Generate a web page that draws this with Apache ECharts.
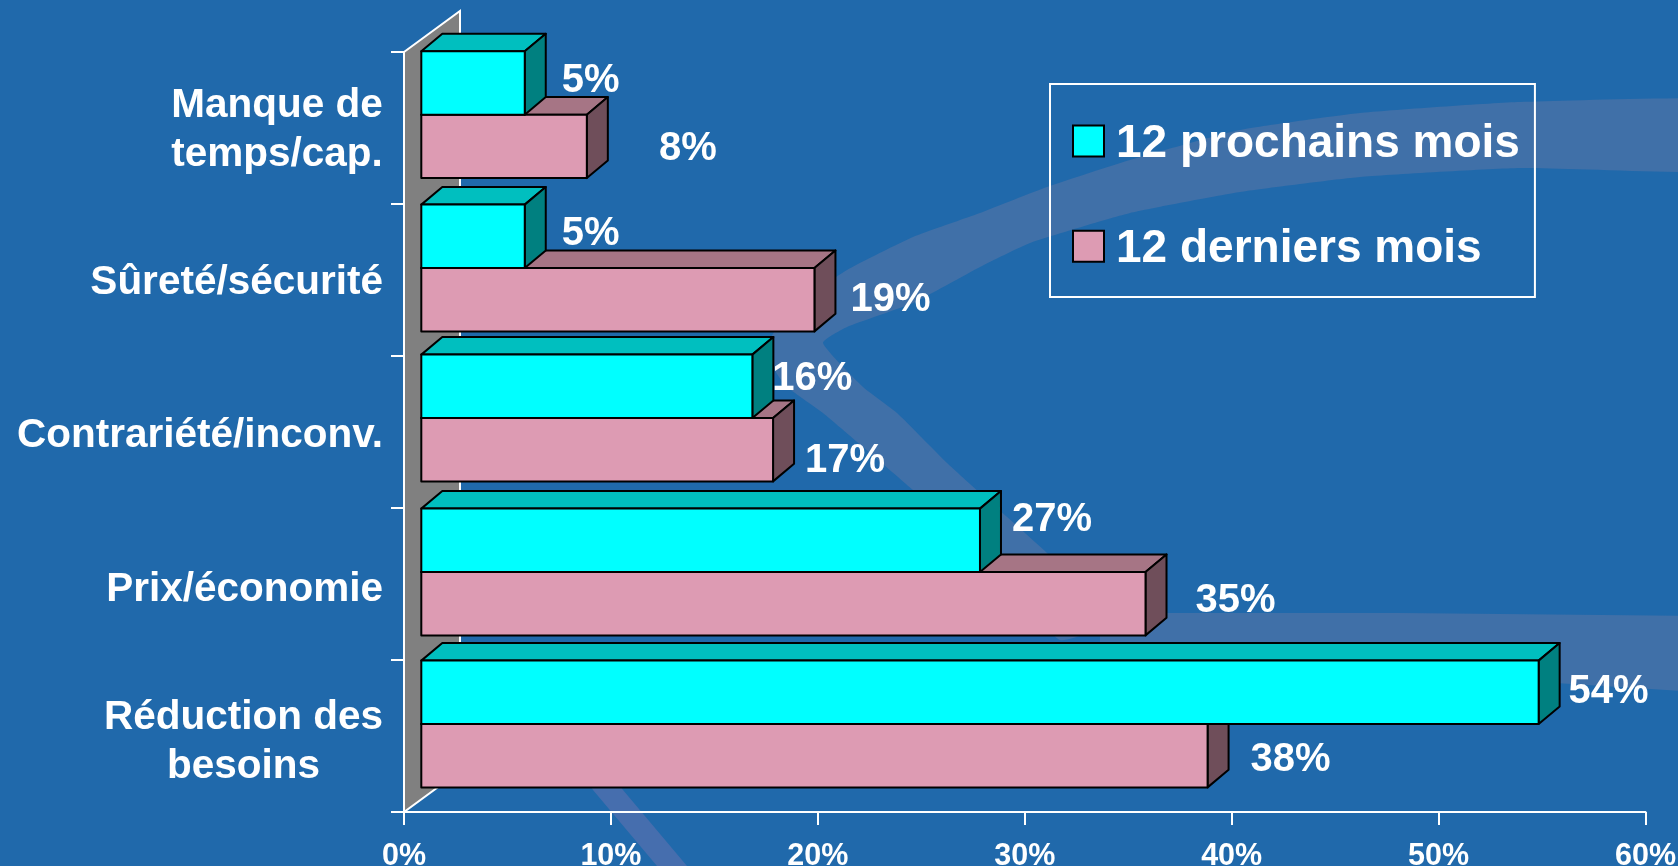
<!DOCTYPE html>
<html>
<head>
<meta charset="utf-8">
<style>html,body{margin:0;padding:0;background:#2069AB}#c{width:1678px;height:866px}</style>
<script src="https://cdn.jsdelivr.net/npm/echarts@6/dist/echarts.min.js"></script>
</head>
<body>
<div id="c"></div>
<script>
// ---- data ----
var categories = ['Réduction des\nbesoins', 'Prix/économie', 'Contrariété/inconv.', 'Sûreté/sécurité', 'Manque de\ntemps/cap.'];
var seriesNext = '12 prochains mois';
var seriesLast = '12 derniers mois';
var valuesNext = [54, 27, 16, 5, 5];
var valuesLast = [38, 35, 17, 19, 8];
var xTicks = { min: 0, max: 60, interval: 10 };

// ---- styling ----
var FONT = '"Liberation Sans", Arial, sans-serif';
var BG = '#2069AB', BAND = '#4070A8', BAND2 = '#466EAE';
var frontDx = 17.3, frontDy = -12.6, depthDx = 21, depthDy = -17.6, barFrac = 0.417;
var wallDx = 56, wallDy = -41;
var paletteNext = { front: '#00FFFF', top: '#00BFBF', side: '#008080' };
var paletteLast = { front: '#DD9BB3', top: '#A67585', side: '#6F4E5A' };
// individual nudges by category (same order as categories)
var rowNudge = [0.6, 0.6, -1.4, 0.6, -0.7];
var nudgeNext = [[70, 0], [72, -20], [60, -7], [66, -2], [66, -2.5]];
var nudgeLast = [[83, 4], [90, -3], [72, 11], [76, 0], [101, 3]];
var catPadding = [[12, 3, 0, 0], [12, 2, 0, 0], [8, 2, 0, 0], [6, 2, 0, 0], [4, 0, 0, 0]];

function barRenderer(palette, nudges, upper) {
  return function (params, api) {
    var v = api.value(0), c = api.value(1);
    var origin = api.coord([0, c]), end = api.coord([v, c]);
    var band = api.size([0, 1])[1], h = band * barFrac;
    var x0 = origin[0] + frontDx, x1 = end[0] + frontDx;
    var mid = origin[1] + frontDy + rowNudge[params.dataIndex];
    var y0 = upper ? mid - h : mid, y1 = upper ? mid : mid + h;
    var stroke = { stroke: '#000', lineWidth: 2, lineJoin: 'round' };
    function poly(pts, fill) {
      return { type: 'polygon', shape: { points: pts }, style: Object.assign({ fill: fill }, stroke) };
    }
    var n = nudges[params.dataIndex];
    return { type: 'group', children: [
      poly([[x0, y0], [x0 + depthDx, y0 + depthDy], [x1 + depthDx, y0 + depthDy], [x1, y0]], palette.top),
      poly([[x1, y0], [x1 + depthDx, y0 + depthDy], [x1 + depthDx, y1 + depthDy], [x1, y1]], palette.side),
      poly([[x0, y0], [x1, y0], [x1, y1], [x0, y1]], palette.front),
      { type: 'text', z2: 50, style: { x: x1 + n[0], y: (y0 + y1) / 2 + n[1], text: v + '%', fill: '#fff',
        font: 'bold 40px ' + FONT, textAlign: 'center', textVerticalAlign: 'middle' } }
    ] };
  };
}
function wallRenderer(params) {
  var g = params.coordSys, l = g.x, t = g.y, b = g.y + g.height;
  var pts = [[l, t], [l + wallDx, t + wallDy], [l + wallDx, b + wallDy], [l, b]];
  return { type: 'polygon', shape: { points: pts }, style: { fill: '#808080', stroke: '#fff', lineWidth: 2 } };
}
function rows(values) { return values.map(function (v, i) { return [v, i]; }); }
function swoosh(points, fill, smooth) {
  return { type: 'polygon', z: -10, silent: true, shape: { points: points, smooth: smooth || 0 }, style: { fill: fill } };
}

var catStyle = { fontFamily: FONT, fontWeight: 'bold', fontSize: 40.5, color: '#fff', lineHeight: 49, align: 'center' };
var chart = echarts.init(document.getElementById('c'), null, { renderer: 'canvas' });
chart.setOption({
  animation: false,
  backgroundColor: BG,
  graphic: [
    swoosh([[1800, 102], [1520, 102], [1360, 113], [1240, 130], [1130, 160], [1047, 187], [980, 213], [913, 237], [847, 270], [790, 310],
            [765, 350], [785, 385], [823, 413], [913, 490], [980, 553], [1060, 640], [1110, 620], [1047, 553], [980, 493], [947, 463], [897, 413], [863, 387],
            [823, 343], [847, 327], [913, 303], [980, 267], [1030, 243], [1130, 213], [1240, 192], [1360, 177], [1520, 168], [1800, 170]], BAND, 0.15),
    swoosh([[1100, 613], [1400, 613], [1700, 616], [1700, 692], [1540, 682], [1100, 650]], BAND),
    swoosh([[560, 745], [593, 790], [657, 866], [687, 866], [623, 790], [590, 745]], BAND2)
  ],
  legend: {
    left: 1050, top: 84, orient: 'vertical',
    data: [seriesNext, seriesLast],
    borderColor: '#fff', borderWidth: 2,
    padding: [31, 15, 24.7, 22],
    itemWidth: 31, itemHeight: 31, itemGap: 53.3,
    icon: 'rect',
    itemStyle: { borderColor: '#000', borderWidth: 2 },
    formatter: function (name) { return '{t|' + name + '}'; },
    textStyle: {
      fontFamily: FONT, fontWeight: 'bold', fontSize: 46, color: '#fff',
      rich: { t: { fontFamily: FONT, fontWeight: 'bold', fontSize: 46, color: '#fff', lineHeight: 46, padding: [6, 0, 0, 7] } }
    }
  },
  grid: { left: 404, right: 32.5, top: 52, bottom: 54, outerBoundsMode: 'none' },
  xAxis: {
    type: 'value', min: xTicks.min, max: xTicks.max, interval: xTicks.interval,
    splitLine: { show: false },
    axisLine: { show: true, lineStyle: { color: '#fff', width: 2 } },
    axisTick: { show: true, length: 13, lineStyle: { color: '#fff', width: 2 } },
    axisLabel: { formatter: '{value}%', fontFamily: FONT, fontWeight: 'bold', fontSize: 30.5, color: '#fff', margin: 29, hideOverlap: false, showMinLabel: true, showMaxLabel: true }
  },
  yAxis: {
    type: 'category',
    data: categories.map(function (c, i) { return { value: c, textStyle: { padding: catPadding[i] } }; }),
    axisLine: { show: true, lineStyle: { color: '#fff', width: 2 } },
    axisTick: { show: true, length: 13, alignWithLabel: false, lineStyle: { color: '#fff', width: 2 } },
    axisLabel: {
      margin: 19, interval: 0, fontFamily: FONT, fontWeight: 'bold', fontSize: 40.5, color: '#fff', lineHeight: 49,
      formatter: function (v) {
        var p = v.split('\n');
        if (p.length < 2) return v;
        var k = p[0].charAt(0) === 'R' ? 'r' : 'm';
        return '{' + k + '|' + p[0] + '}\n{' + k + '|' + p[1] + '}';
      },
      rich: {
        r: Object.assign({ width: 277 }, catStyle),
        m: Object.assign({ width: 216 }, catStyle)
      }
    }
  },
  series: [
    { type: 'custom', name: 'mur', z: 1, silent: true, clip: false, data: [[0, 0]], encode: { x: 0, y: 1 }, renderItem: wallRenderer },
    { type: 'custom', name: seriesLast, z: 3, silent: true, clip: false, itemStyle: { color: paletteLast.front }, data: rows(valuesLast), encode: { x: 0, y: 1 }, renderItem: barRenderer(paletteLast, nudgeLast, false) },
    { type: 'custom', name: seriesNext, z: 4, silent: true, clip: false, itemStyle: { color: paletteNext.front }, data: rows(valuesNext), encode: { x: 0, y: 1 }, renderItem: barRenderer(paletteNext, nudgeNext, true) }
  ]
});
</script>
</body>
</html>
